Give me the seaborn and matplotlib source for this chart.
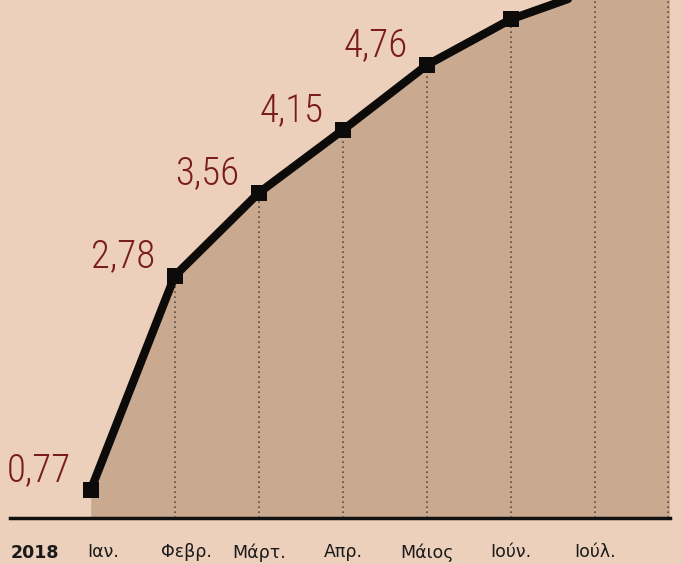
import matplotlib
matplotlib.use("Agg")
import matplotlib.pyplot as plt
import matplotlib.transforms as mtransforms
import seaborn as sns
import pandas as pd

months = ["Ιαν.", "Φεβρ.", "Μάρτ.", "Απρ.", "Μάιος", "Ιούν.", "Ιούλ."]
values = [0.77, 2.78, 3.56, 4.15, 4.76, 5.19, 5.47]
labels = ["0,77", "2,78", "3,56", "4,15", "4,76", None, None]
year = "2018"

df = pd.DataFrame({"idx": range(len(months)), "value": values})

bg = "#ecd0bc"
fill = "#c9aa90"
red = "#7a1c1c"

sns.set_style("white")
plt.rcParams["font.family"] = ["DejaVu Sans"]

fig = plt.figure(figsize=(6.83, 5.64), dpi=100, facecolor=bg)
ax = fig.add_axes([10 / 683, 46 / 564, 660 / 683, 518 / 564])
ax.set_facecolor(bg)

xmin, xmax = -0.96, 6.89
ymin, ymax = 0.507, 5.37

# shaded area under the curve, plus the part past July where the line leaves the top
ax.fill_between(df["idx"], ymin, df["value"], color=fill, lw=0, zorder=1)
ax.fill_between([df["idx"].iloc[-1], xmax], ymin, ymax, color=fill, lw=0, zorder=1)

# dotted drop lines
for i, v in zip(df["idx"][1:], df["value"][1:]):
    ax.plot([i, i], [ymin, v], color="#5a4a40", ls=(0, (1, 2)), lw=1.2, zorder=2)
ax.plot([xmax - 0.02, xmax - 0.02], [ymin, ymax], color="#5a4a40", ls=(0, (1, 2)), lw=1.2, zorder=2)

sns.lineplot(data=df, x="idx", y="value", ax=ax, color="#0d0a0a", lw=6,
             marker="s", markersize=11.5, markeredgewidth=0, zorder=3)

for i, (v, lab) in enumerate(zip(values, labels)):
    if lab is None:
        continue
    ax.annotate(lab, (i, v), xytext=(-14, 14), textcoords="offset points",
                ha="right", va="center", fontsize=28, color=red, fontweight="light",
                family=["Roboto Condensed", "DejaVu Sans"])

ax.set_xlim(xmin, xmax)
ax.set_ylim(ymin, ymax)
ax.set_xticks(range(len(months)))
ax.set_xticklabels(months, fontsize=12.5, color="#1a1a1a")
ax.tick_params(axis="x", length=0, pad=18)
# first two month names sit a little right of their points in the original
for k, shift in [(0, 12), (1, 12)]:
    t = ax.get_xticklabels()[k]
    t.set_transform(t.get_transform() + mtransforms.ScaledTranslation(shift / 100, 0, fig.dpi_scale_trans))
ax.set_yticks([])
ax.set_xlabel("")
ax.set_ylabel("")
for s in ["top", "right", "left"]:
    ax.spines[s].set_visible(False)
ax.spines["bottom"].set_color("#111111")
ax.spines["bottom"].set_linewidth(2.5)

ax.text(-0.66, -0.068, year, transform=ax.get_xaxis_transform(), ha="center",
        va="center", fontsize=12.5, fontweight="bold", color="#1a1a1a")

fig.savefig("out.png", dpi=100, facecolor=bg)
